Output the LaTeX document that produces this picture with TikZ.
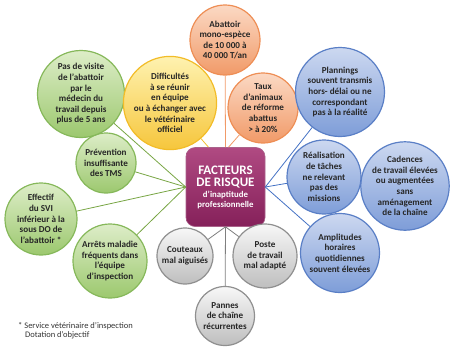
\documentclass[tikz,border=0pt]{standalone}
\usepackage{fontspec}
\setmainfont{Carlito}
\definecolor{gfill1}{HTML}{DDEDC8}
\definecolor{gfill2}{HTML}{9CC86E}
\definecolor{gbord}{HTML}{86B85A}
\definecolor{gline}{HTML}{77A543}
\definecolor{ofill1}{HTML}{FBD9C4}
\definecolor{ofill2}{HTML}{F19A68}
\definecolor{obord}{HTML}{EE8E55}
\definecolor{oline}{HTML}{F19A68}
\definecolor{yfill1}{HTML}{FEF2B0}
\definecolor{yfill2}{HTML}{F6C63C}
\definecolor{ybord}{HTML}{F2BC28}
\definecolor{yline}{HTML}{F2C031}
\definecolor{bfill1}{HTML}{CCD8F0}
\definecolor{bfill2}{HTML}{7E9DD8}
\definecolor{bbord}{HTML}{5A7FC6}
\definecolor{bline}{HTML}{4472C4}
\definecolor{kfill1}{HTML}{F7F7F7}
\definecolor{kfill2}{HTML}{BEBEBE}
\definecolor{kbord}{HTML}{8F8F8F}
\definecolor{kline}{HTML}{7F7F7F}
\definecolor{mag1}{HTML}{B04A82}
\definecolor{mag2}{HTML}{85205A}
\begin{document}
\begin{tikzpicture}[x=1pt,y=-1pt,
  circ/.style={circle,inner sep=0pt,align=center,line width=1.2pt,
    font=\fontsize{9.1}{10.6}\selectfont\bfseries,text=black!85},
  gc/.style={circ,draw=gbord,top color=gfill1,bottom color=gfill2},
  oc/.style={circ,draw=obord,top color=ofill1,bottom color=ofill2},
  yc/.style={circ,draw=ybord,top color=yfill1,bottom color=yfill2},
  bc/.style={circ,draw=bbord,top color=bfill1,bottom color=bfill2},
  kc/.style={circ,draw=kbord,top color=kfill1,bottom color=kfill2},
  gl/.style={draw=gline,line width=0.8pt},
  ol/.style={draw=oline,line width=0.8pt},
  yl/.style={draw=yline,line width=0.8pt},
  bl/.style={draw=bline,line width=0.8pt},
  kl/.style={draw=kline,line width=0.8pt},
  foot/.style={anchor=west,inner sep=0pt,font=\fontsize{8.5}{9}\selectfont,text=black!80}]
\useasboundingbox (0,0) rectangle (450,349);

\node[rounded corners=9pt,minimum width=79pt,minimum height=79pt,
  top color=mag1,bottom color=mag2,draw=mag2!70,line width=0.6pt,
  align=center,text=white,inner sep=0pt,
  font=\fontsize{13}{14.5}\selectfont\bfseries] (box) at (225.5,187)
  {FACTEURS\\[-2.5pt]DE RISQUE\\[-3pt]\fontsize{8.8}{10.5}\selectfont d’inaptitude\\[-5pt]\fontsize{8.8}{10.5}\selectfont professionnelle};

\node[oc,minimum size=70pt] (abattoir) at (225,40) {Abattoir\\mono-espèce\\de 10 000 à\\40 000 T/an};
\node[oc,minimum size=70pt] (taux) at (263,108) {Taux\\d’animaux\\de réforme\\abattus\\> à 20\%};
\node[bc,minimum size=89pt] (plannings) at (340,92) {Plannings\\souvent transmis\\hors- délai ou ne\\correspondant\\pas à la réalité};
\node[bc,minimum size=74pt] (realisation) at (324,177) {Réalisation\\de tâches\\ne relevant\\pas des\\missions};
\node[bc,minimum size=83pt] (cadences) at (405,186) {Cadences\\de travail élevées\\ou augmentées\\sans\\aménagement\\de la chaîne};
\node[bc,minimum size=79pt] (amplitudes) at (340,253) {Amplitudes\\horaires\\quotidiennes\\souvent élevées};
\node[kc,minimum size=64pt] (poste) at (265,256) {Poste\\de travail\\mal adapté};
\node[kc,minimum size=59pt] (pannes) at (225,316) {Pannes\\de chaîne\\récurrentes};
\node[kc,minimum size=56pt] (couteaux) at (185,256) {Couteaux\\mal aiguisés};
\node[gc,minimum size=74pt] (arrets) at (110,261) {Arrêts maladie\\fréquents dans\\l’équipe\\d’inspection};
\node[gc,minimum size=72pt] (effectif) at (41,219) {Effectif\\du SVI\\inférieur à la\\sous DO de\\l’abattoir *};
\node[gc,minimum size=60pt] (prevention) at (106,163) {Prévention\\insuffisante\\des TMS};
\node[gc,minimum size=87pt] (visite) at (81,94) {Pas de visite\\de l’abattoir\\par le\\médecin du\\travail depuis\\plus de 5 ans};
\node[yc,minimum size=86pt] (difficultes) at (170,103) {Difficultés\\à se réunir\\en équipe\\ou à échanger avec\\le vétérinaire\\officiel};

\draw[ol] (box.north) -- (abattoir);
\draw[ol] ([xshift=3pt]box.north) -- (taux);
\draw[yl] ([xshift=-17pt]box.north) -- (difficultes);
\draw[gl] (box.west) -- (visite);
\draw[gl] (box.west) -- (prevention);
\draw[gl] (box.west) -- (effectif);
\draw[gl] (box.west) -- (arrets);
\draw[bl] (box.east) -- (plannings);
\draw[bl] (box.east) -- (realisation);
\draw[bl] (box.east) -- (amplitudes);
\draw[bl] (realisation) -- (cadences);
\draw[kl] (box.south) -- (couteaux);
\draw[kl] (box.south) -- (pannes);
\draw[kl] (box.south) -- (poste);

\node[foot] (fn1) at (18,326) {* Service vétérinaire d’inspection};
\node[foot] (fn2) at (25,335.5) {Dotation d’objectif};
\end{tikzpicture}
\end{document}
